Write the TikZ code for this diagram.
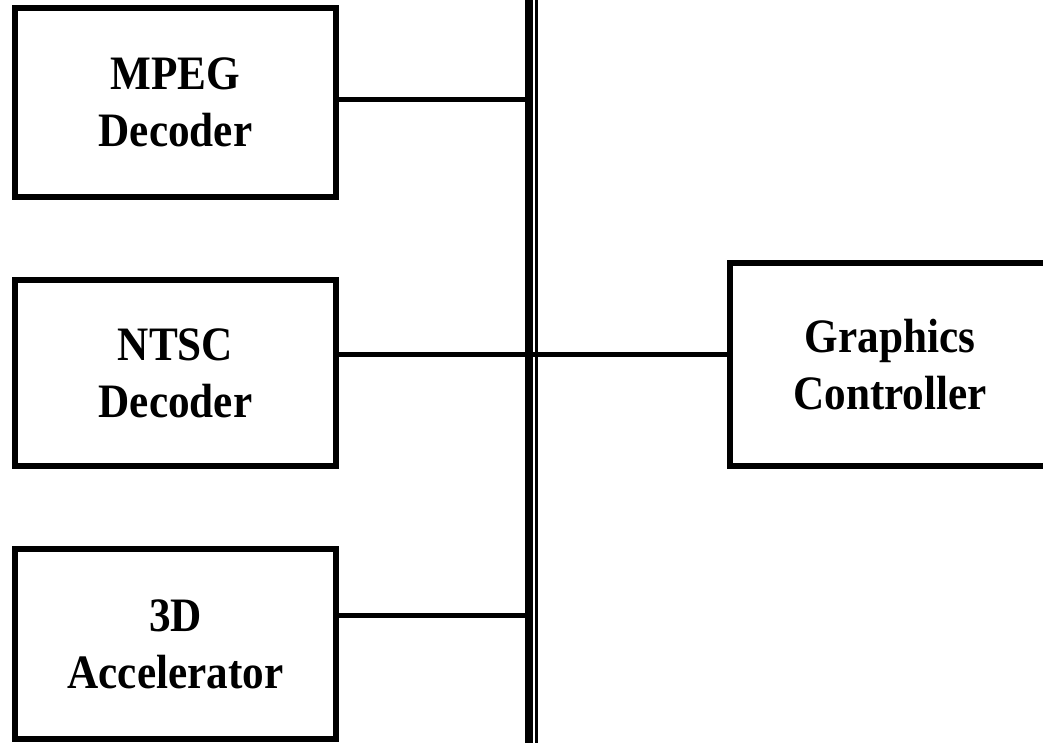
\documentclass[tikz,border=0pt]{standalone}
\usepackage{fontspec}
\setmainfont[FakeStretch=0.9]{Liberation Serif}
\begin{document}
\begin{tikzpicture}[x=1pt,y=-1pt,
  blk/.style={draw=black,line width=5.5pt,inner sep=0pt,align=center,
    font=\bfseries\fontsize{48}{57}\selectfont},
  wire/.style={draw=black,line width=5pt},
  busline/.style={draw=black}]
\useasboundingbox (0,0) rectangle (1043,743);
\clip (0,0) rectangle (1043,743);
\fill[white] (0,0) rectangle (1043,743);
\node[blk,minimum width=321pt,minimum height=189pt] (mpeg) at (175.5,102.5) {MPEG\\Decoder};
\node[blk,minimum width=321pt,minimum height=186pt] (ntsc) at (175.5,373) {NTSC\\Decoder};
\node[blk,minimum width=321pt,minimum height=190pt] (acc) at (175.5,644) {3D\\Accelerator};
\node[blk,minimum width=320pt,minimum height=203pt] (gfx) at (890,364.5) {Graphics\\Controller};
\coordinate (busLtop) at (528.5,-10);
\coordinate (busLbot) at (528.5,760);
\coordinate (busRtop) at (536.5,-10);
\coordinate (busRbot) at (536.5,760);
\draw[busline,line width=8pt] (busLtop) -- (busLbot);
\draw[busline,line width=2.5pt] (busRtop) -- (busRbot);
\draw[wire] (mpeg.east |- 0,100) -- (busLtop |- 0,100);
\draw[wire] (ntsc.east |- 0,354) -- (gfx.west |- 0,354);
\draw[wire] (acc.east |- 0,615) -- (busLtop |- 0,615);
\end{tikzpicture}
\end{document}
